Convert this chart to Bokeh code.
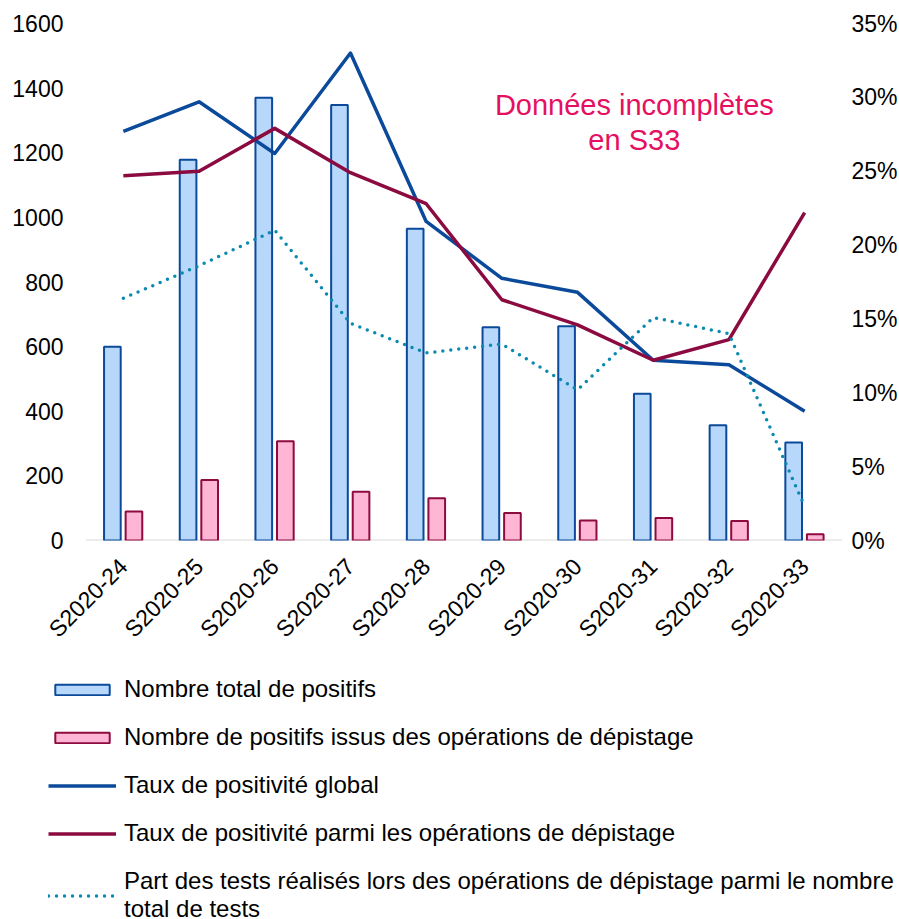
import math
from bokeh.plotting import figure
from bokeh.models import (Range1d, LinearAxis, FixedTicker, PrintfTickFormatter, Legend,
                          LegendItem, Span, Label, FactorRange, ColumnDataSource)
from bokeh.transform import dodge
from bokeh.embed import file_html
from bokeh.resources import INLINE

weeks = ["S2020-24", "S2020-25", "S2020-26", "S2020-27", "S2020-28",
         "S2020-29", "S2020-30", "S2020-31", "S2020-32", "S2020-33"]
total_positifs = [600, 1178, 1370, 1348, 965, 660, 663, 454, 357, 303]
positifs_depistage = [90, 187, 307, 151, 131, 85, 62, 70, 60, 19]
taux_global = [27.7, 29.7, 26.2, 33.0, 21.6, 17.75, 16.8, 12.2, 11.9, 8.75]
taux_depistage = [24.7, 25.0, 27.9, 24.9, 22.8, 16.3, 14.6, 12.2, 13.6, 22.2]
part_tests = [16.4, 18.6, 21.0, 14.7, 12.7, 13.3, 10.2, 15.1, 14.0, 2.3]

left_ticks = [0, 200, 400, 600, 800, 1000, 1200, 1400, 1600]
right_ticks = [0, 5, 10, 15, 20, 25, 30, 35]

legend_labels = [
    "Nombre total de positifs",
    "Nombre de positifs issus des opérations de dépistage",
    "Taux de positivité global",
    "Taux de positivité parmi les opérations de dépistage",
    "Part des tests réalisés lors des opérations de dépistage parmi le nombre\ntotal de tests",
]
note_text = "Données incomplètes\nen S33"

FONT = "Liberation Sans"
BLUE_FILL, BLUE_LINE = "#B7D7FB", "#0B4A9B"
PINK_FILL, PINK_LINE = "#FFB5D4", "#8E0B3F"
RED_LINE, TEAL = "#8B0A40", "#0A8AB0"

src = ColumnDataSource(dict(week=weeks, total=total_positifs, dep=positifs_depistage,
                            tg=taux_global, td=taux_depistage, pt=part_tests))

p = figure(x_range=FactorRange(factors=weeks, range_padding=0, factor_padding=0),
           y_range=Range1d(0, 1600), frame_width=757, frame_height=517,
           output_backend="svg", toolbar_location=None,
           min_border_left=85, min_border_top=23, min_border_right=0, min_border_bottom=132)
p.extra_y_ranges = {"pct": Range1d(0, 35)}

p.xgrid.grid_line_color = None
p.ygrid.grid_line_color = None
p.outline_line_color = None


def style_axis(ax, standoff):
    ax.axis_line_color = None
    ax.major_tick_line_color = None
    ax.minor_tick_line_color = None
    ax.major_tick_out = 0
    ax.major_tick_in = 0
    ax.minor_tick_out = 0
    ax.major_label_text_font = FONT
    ax.major_label_text_font_size = "23px"
    ax.major_label_text_color = "#000000"
    ax.major_label_standoff = standoff


ya = p.yaxis[0]
ya.ticker = FixedTicker(ticks=left_ticks)
style_axis(ya, 22)

ra = LinearAxis(y_range_name="pct", ticker=FixedTicker(ticks=right_ticks),
                formatter=PrintfTickFormatter(format="%d%%"))
style_axis(ra, 9)
p.add_layout(ra, "right")

xa = p.xaxis[0]
style_axis(xa, 22)
xa.major_label_orientation = math.pi / 4

base = Span(location=0, dimension="width", line_color="#D9D9D9", line_width=2, level="underlay")
p.add_layout(base)

r_blue = p.vbar(x=dodge("week", -0.145, range=p.x_range), top="total", width=0.22,
                fill_color=BLUE_FILL, line_color=BLUE_LINE, line_width=2, source=src)
r_pink = p.vbar(x=dodge("week", 0.14, range=p.x_range), top="dep", width=0.22,
                fill_color=PINK_FILL, line_color=PINK_LINE, line_width=2, source=src)
r_tg = p.line(x="week", y="tg", y_range_name="pct", line_color=BLUE_LINE,
              line_width=3.5, line_join="round", source=src)
r_td = p.line(x="week", y="td", y_range_name="pct", line_color=RED_LINE,
              line_width=3.5, line_join="round", source=src)
r_pt = p.line(x="week", y="pt", y_range_name="pct", line_color=TEAL,
              line_width=3.5, line_dash="0 8", line_cap="round", source=src)

note = Label(x=7.25, y=1398, text=note_text, text_align="center",
             text_baseline="top", text_color="#E5105F", text_font=FONT,
             text_font_size="29px", text_line_height=1.1)
p.add_layout(note)

# ---- legend figure (separate root, placed below the chart) ----
LH = 251
lf = figure(width=899, height=LH, x_range=Range1d(0, 1), y_range=Range1d(0, 1),
            x_axis_location=None, y_axis_location=None,
            output_backend="svg", toolbar_location=None, min_border=0)
lf.grid.visible = False
lf.outline_line_color = None

# hidden stand-in renderers that only provide the legend swatches
dummy = ColumnDataSource(dict(x=[-10], y=[-10]))
g1 = lf.vbar(x="x", top="y", width=1, fill_color=BLUE_FILL, line_color=BLUE_LINE,
             line_width=2, source=dummy, visible=False)
g2 = lf.vbar(x="x", top="y", width=1, fill_color=PINK_FILL, line_color=PINK_LINE,
             line_width=2, source=dummy, visible=False)
g3 = lf.line(x="x", y="y", line_color=BLUE_LINE, line_width=3.5, source=dummy, visible=False)
g4 = lf.line(x="x", y="y", line_color=RED_LINE, line_width=3.5, source=dummy, visible=False)
g5 = lf.line(x="x", y="y", line_color=TEAL, line_width=3.5, line_dash="0 8",
             line_cap="round", source=dummy, visible=False)

legend = Legend(items=[LegendItem(label=t, renderers=[g])
                       for t, g in zip(legend_labels, [g1, g2, g3, g4, g5])],
                location=(48, 0), orientation="vertical", glyph_width=68, glyph_height=13,
                label_text_font=FONT, label_text_font_size="24px", label_text_color="#000000",
                label_text_line_height=1.15,
                label_standoff=8, spacing=20, padding=0, margin=0, label_height=24,
                border_line_color=None, background_fill_alpha=0,
                inactive_fill_alpha=0)
lf.add_layout(legend)

open("out.html", "w").write(file_html([p, lf], INLINE))
